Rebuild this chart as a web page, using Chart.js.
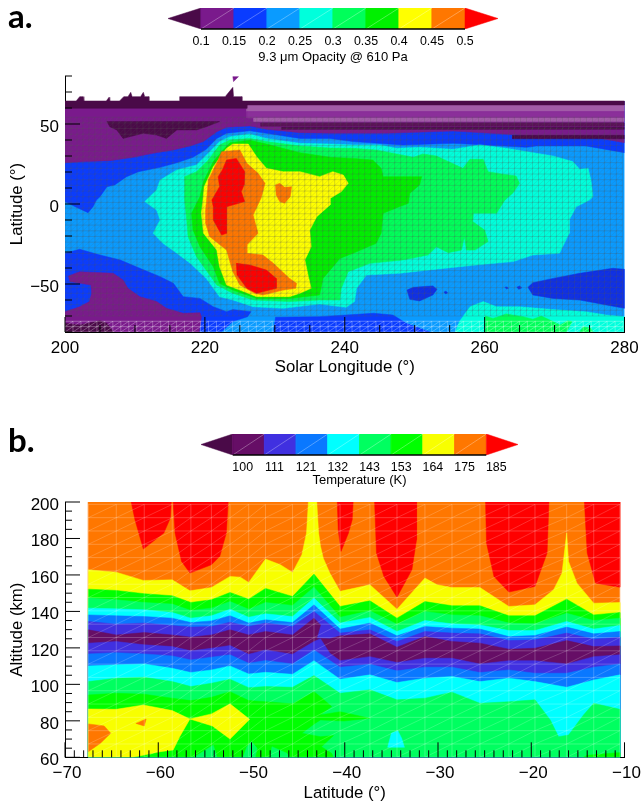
<!DOCTYPE html>
<html>
<head>
<meta charset="utf-8">
<title>Opacity and temperature</title>
<script src="https://cdn.jsdelivr.net/npm/chart.js@4"></script>
<style>
    html, body { margin: 0; padding: 0; background: #fff; }
    #page { position: relative; width: 641px; height: 803px; overflow: hidden; }
    canvas { position: absolute; left: 0; }
    .tag { position: absolute; left: 8px; font: 700 33px Lato, sans-serif; color: #000; line-height: 40px; }
</style>
</head>
<body>
<div id="page">
    <canvas id="barA" width="641" height="72" style="top:0"></canvas>
    <canvas id="plotA" width="680" height="324" style="top:56px"></canvas>
    <canvas id="barB" width="641" height="70" style="top:425px"></canvas>
    <canvas id="plotB" width="680" height="321" style="top:482px"></canvas>
    <div class="tag" style="top:-5px">a.</div>
    <div class="tag" style="top:419px">b.</div>
</div>
<script>
/* =========================================================
   COLOURS AND LEVELS
========================================================= */
const opacityLevels = ["0.1", "0.15", "0.2", "0.25", "0.3", "0.35", "0.4", "0.45", "0.5"];
const opacityColors = ["#4a0a48", "#7a1a8c", "#0a3cff", "#0a9bff", "#00ffdc", "#00ff5a", "#00f000", "#ffff00", "#ff7700", "#ff0000"];
const tempLevels = ["100", "111", "121", "132", "143", "153", "164", "175", "185"];
const tempColors = ["#4a0a48", "#660e66", "#4030e0", "#0a78ff", "#00ffff", "#00ff60", "#00ff00", "#f8ff00", "#ff7700", "#ff0000"];

/* =========================================================
   PANEL A - contours as [solar longitude, latitude]
========================================================= */
const north020 = [[200,1.5],[201.6,-2],[203.3,-5.4],[204,-1.7],[204.5,2.5],[205,4.6],[206,10.8],[207.1,11.9],[208.8,17.1],[210.5,20.2],[213.6,22.9],[216,25.8],[218.3,29.2],[220.2,34.2],[221.7,41],[223.1,44.2],[226.4,45.8],[228.8,44.2],[233.6,41],[237.9,41],[241.2,39],[248.3,36.9],[255.5,37.9],[260.2,36.9],[266,35.4],[267.4,36.3],[274.5,36.3],[280,32.1],[280,64],[200,64]];
const north015 = [[200,25.8],[203.1,26.5],[206.4,27.1],[209.8,29.2],[212.6,31.7],[215.5,33.8],[217.9,36.3],[219.8,39],[221.7,45.2],[223.1,47.9],[226.4,48.8],[228.8,46.7],[233.6,44.6],[237.9,44.2],[246,44.2],[255.5,45.6],[265,43.1],[267.9,41],[274.5,42.7],[280,38.3],[280,64],[200,64]];
const north010 = [[206,51.5],[222.1,51.5],[220.2,48.3],[218.8,46.3],[216,46.3],[214.5,41],[213.1,43.1],[211.2,44.2],[208.3,41],[207.4,46.3],[206.4,48.3]];
const south020 = [[200,-30.8],[202.1,-28.3],[205,-31.9],[207.9,-35],[210.7,-40.2],[213.6,-45.4],[215.5,-49.6],[216.9,-57.9],[219.3,-59],[221.2,-64.2],[223.1,-67.3],[224,-66],[226.6,-67.3],[226.1,-70.4],[224,-73.5],[222.4,-79.8],[200,-80]];
const bottom020 = [[229.8,-80],[230.1,-70.8],[236.4,-70.4],[240.2,-69.4],[244.1,-68.3],[246.9,-69.4],[248.8,-74.6],[251.7,-79.2],[252.2,-80]];
const east020 = [[266.2,-52.1],[266.9,-49.2],[269.8,-46.5],[273.6,-43.3],[278.3,-40.2],[280,-40.8],[280,-65.2],[277.4,-63.1],[273.6,-60],[269.8,-59],[266.9,-56.9]];
const mid020 = [[248.9,-53.8],[249.8,-52.1],[252.6,-51.2],[253.2,-53.3],[252.6,-56.9],[250.7,-60.6],[249.3,-59.6]];
const spot020a = [[254.2,-55],[254.5,-54.6],[254.7,-55.6],[254.4,-56.2]];
const spot020b = [[262.9,-52],[263.2,-51.8],[263.4,-52.6],[263.1,-53]];
const spot020c = [[264.6,-52],[265,-51.2],[265.3,-52.4],[264.9,-53.3]];
const south015 = [[200.5,-45],[202.1,-42.3],[206.9,-43.3],[208.3,-47.5],[209,-52.7],[210.7,-57.9],[213.1,-61],[214.5,-65.2],[216.9,-68.3],[219.3,-67.9],[219.5,-70.4],[219.2,-80],[200,-80],[200,-67.3],[202.1,-64.2],[203.5,-61],[203.8,-55.8],[203.7,-50.6],[200.7,-48.5]];
const south010 = [[200,-74.6],[202.1,-75.6],[205,-72.9],[206,-74.6],[206.9,-80],[200,-80]];
const blob025 = [[211.4,1.5],[213.1,8.8],[213.6,15],[216,21.3],[218.8,24.4],[220.5,31.7],[222.1,39],[223.6,42.1],[226.4,43.8],[228.8,41],[233.6,37.9],[237.9,37.5],[241.2,36.9],[245,36.9],[247.4,34.8],[250.7,35.4],[255.5,34.2],[259.3,36.9],[263.1,34.8],[269.8,30],[272.6,26.5],[273.6,21.7],[274.8,22.3],[275.2,15],[275.5,4.6],[275,2.5],[273.1,-1.7],[272.1,-10],[272.1,-18.3],[270.7,-30.8],[266.9,-31.9],[264.1,-36],[258.8,-38.1],[252.1,-41.2],[247.9,-43.3],[243.1,-44.4],[241.7,-52.7],[241.4,-61],[240.2,-64.6],[236.4,-62.5],[231.2,-65.2],[226.9,-64.2],[224,-60],[222.1,-58],[220.2,-46.5],[217.9,-37],[215.7,-29.8],[214,-24.6],[212.6,-18.3],[213.6,-10],[213.1,-3.8]];
const bottom025 = [[255.8,-80],[256.4,-73.5],[257.9,-64.2],[259.8,-61],[261.7,-64.2],[265,-64.2],[269.8,-66],[274.5,-67.3],[277.4,-69.4],[280,-70.4],[280,-80]];
const blob030 = [[217.1,17.1],[218.8,20.2],[220.5,27.5],[222.1,36.9],[223.6,40],[226.4,41],[228.8,39],[233.6,36.3],[237.9,35],[241.2,34.8],[244.5,33.8],[249.8,29.2],[251.2,31.3],[253.1,30],[256.9,22.3],[257.9,27.9],[259.8,27.9],[260.5,20.2],[262.4,18.8],[264.5,17.5],[265,12.9],[264,6.7],[262.9,2.5],[261.7,-5.8],[258.4,-5.8],[258.3,-11],[260,-16.3],[260.5,-23.5],[258.6,-28.8],[257.4,-28.8],[257.1,-20.4],[256.7,-28.8],[254.8,-30.4],[253.1,-26.7],[251.9,-31.9],[248.3,-35],[243.6,-37.1],[240.5,-42.3],[239.5,-52.7],[239.3,-60],[236.4,-60],[232.1,-61],[226.9,-60],[224,-55.8],[221.7,-50.6],[220.5,-43.3],[218.8,-32.9],[217.6,-20.4],[217.4,-10],[217.1,2.5]];
const bottom030a = [[260.1,-70],[261.2,-71.5],[263.1,-68.7],[265.5,-70.4],[266.9,-72],[268.1,-70],[269.8,-73.5],[270.8,-75.6],[271.9,-72.9],[272.5,-73.5],[271.7,-80],[260.1,-80]];
const bottom030b = [[273.6,-80],[274.1,-76.7],[275.2,-77.7],[275.5,-80]];
const blob035 = [[219.3,4.6],[219.8,14],[221.2,26.5],[222.6,33.8],[223.6,38.3],[226.4,39.8],[228.8,37.5],[233.6,32.1],[237.9,29.2],[241.2,28.5],[244,27.5],[245.2,22.3],[245.5,17.1],[251,17.1],[250.7,11.9],[249.3,6.7],[249.1,0.4],[247.8,-1.7],[245.5,-5.8],[245.2,-18.3],[244.5,-24.6],[241.2,-30.8],[239.3,-34],[236.9,-46.5],[236.4,-56.9],[232.1,-59],[227.4,-59],[224,-53.8],[222.1,-49.6],[221.2,-39.2],[219.3,-26.7],[218.3,-16.3],[218.1,-5.8]];
const blob040 = [[219.7,1.5],[219.9,10.8],[221.2,23.3],[223.1,34.8],[224,37.5],[226.2,37.5],[227.4,29.6],[228.8,22.3],[231.2,20.2],[233.6,20.2],[236.4,17.1],[238.3,20.2],[239.8,18.1],[240.5,12.9],[239.5,7.7],[237.9,3.5],[237.9,-0.6],[236,-7.9],[235,-16.3],[235.2,-26.7],[234.3,-35],[234.8,-45.4],[235.2,-52.7],[233.6,-55.8],[232.1,-57.9],[227.4,-57.9],[225,-53.8],[223.1,-50.6],[222.1,-39.2],[221.7,-28.8],[219.8,-18.3],[219.5,-5.8]];
const blob045 = [[220.2,0.4],[220.5,15],[221.9,27.5],[222.4,32.7],[225,33.8],[226,25.4],[227.6,19.2],[228.6,12.9],[228.1,4.6],[227.9,2.5],[226.9,-6.9],[227.6,-18.3],[226,-25.6],[226,-30.8],[228.3,-31.9],[229.8,-37.1],[232.1,-46.5],[233.1,-49.6],[233,-52.7],[231.2,-53.8],[228.3,-56.9],[227.1,-55.8],[225,-50.6],[224,-42.3],[223.1,-28.8],[220.7,-20.4],[220.1,-12.1],[220.1,-3.8]];
const island045 = [[230.1,11.9],[230.7,12.9],[231.4,10.4],[232.4,10.8],[232.2,4.6],[231.4,0.4],[230.7,1.5],[230.2,5.6]];
const peak050n = [[222.5,21.3],[223.1,27.5],[224.5,28.5],[225.7,20.2],[225.6,11.9],[225.2,7.7],[225.7,1.5],[223.1,-1.7],[223.1,-18.3],[222.4,-19.4],[221.2,-10],[221.2,-1.7],[221,2.5],[222.1,10.8],[221.9,17.1]];
const peak050s = [[224.5,-37.1],[226.4,-38.1],[228.8,-41.3],[230.2,-46.5],[230.2,-52.7],[227.4,-55.8],[226,-52.7],[224.6,-44.4]];
const topEdge = [[200,64.4],[201.6,64.4],[202.1,67.1],[202.6,67.1],[202.7,64.4],[205.9,64.4],[206.3,66.7],[206.4,64.4],[207.8,64.4],[208.4,67.1],[209,67.1],[209.4,69.8],[209.6,67.1],[210.8,67.1],[211.2,69.8],[211.4,67.1],[212,67.1],[212,64.4],[216.4,64.4],[216.4,67.1],[222.9,67.1],[224,72.9],[224.1,67.1],[225.3,67.1],[225.3,64.4],[280,64.4],[280,61.9],[226,61.9],[226,59.8],[200,59.8]];
const topSpeck = [[224,79.6],[224.8,79.6],[224.1,76.5]];
// striped top rows east of 226: [west lon, south lat, north lat]
const stripeWest = [226, 226, 227, 228, 231, 264];
const stripeSouth = [57.8, 53.7, 51.6, 48.6, 46.7, 40.8];
const stripeNorth = [61.9, 57.8, 53.7, 50.6, 47.9, 42.9];
const stripeTone = ["#a25ba8", "#8b2f9a", "#a25ba8", "#5a1258", "#4a0a48", "#4a0a48"];

const lonTicks = [200, 220, 240, 260, 280];
const latTicksA = [-50, 0, 50];

/* =========================================================
   PANEL B - contour altitudes (km) on the latitude columns
========================================================= */
const tempLat = [-67.5,-64.5,-61.5,-58.5,-56.5,-54.3,-52.3,-50.3,-48.5,-45.6,-43.3,-40.5,-37.3,-34.4,-31.4,-28.5,-25.5,-22.4,-19.6,-16.2,-13.3,-10.5];
const upper164 = [152.2,151.5,149.7,148.6,144.9,146.4,150.4,146.7,152.6,148.2,160.5,142.7,145.8,136.3,145.4,143.1,143.1,137.6,137.6,146.7,138.1,139.4];
const upper153 = [147.3,146.4,144.9,144,140.5,141.8,145.4,141.2,144.9,143.3,153.3,136.8,140.3,133,140,138.1,137.6,133.6,133.2,139,135,136.3];
const upper143 = [141.8,141.4,140.9,139.4,136.3,137.6,141.2,136.8,138.7,137.2,147.3,133.6,136.7,129,135,133.2,132.6,129.5,129.5,134.5,130.3,132.3];
const upper132 = [138.1,137.6,137.2,136.3,133.9,134.8,137.6,133.6,135.4,133.9,143.6,130.3,133.6,126.6,131.7,130.8,130.3,126.2,126.8,131.4,127.7,129];
const upper121 = [134.5,133,133.6,132.3,131.4,131.7,134.1,131.7,133.6,131.7,140,128.1,129.9,123.5,129,128.1,127.7,124,124.4,128.1,124.8,125.9];
const lower121 = [116.7,117.4,116.7,115.6,113.4,114.9,116.2,111.6,113.1,111.2,118.9,109.4,111,107.4,109.4,109.4,106.5,107.9,106.1,106.1,109.4,111.2];
const lower132 = [110.1,110.7,111.2,108.8,106.5,107.9,110.1,105.7,106.6,105.5,113,102.8,105.2,101,103.4,104.3,101.5,103.4,101.5,98.4,102.4,105.2];

const upper175 = [[-67.5,162.8],[-64.5,161.5],[-61.6,157],[-58.5,157.3],[-56.6,151.3],[-54.3,153.1],[-52.3,159.2],[-51.2,158.8],[-50.3,155.9],[-48.5,168.7],[-46.9,165.6],[-45.6,161.4],[-44.6,171.1],[-44.1,183],[-43.9,200],[-43,200],[-42.8,183],[-42.6,175.7],[-42.3,169.2],[-41.6,161],[-40.5,151],[-37.3,154.6],[-34.4,141.2],[-31.4,158.3],[-30.1,154.6],[-28.5,153.1],[-25.5,153.1],[-22.4,142.7],[-19.6,143.6],[-17.6,151.9],[-16.7,161],[-16.2,183],[-16,167.4],[-15.1,155.5],[-13.3,144.5],[-10.5,144.9]];
const upper111 = [[-67.5,129.9],[-64.5,127.1],[-61.5,128.4],[-58.5,127.1],[-56.5,125.9],[-54.3,127.1],[-52.3,129.9],[-50.3,127.1],[-48.5,129],[-45.6,127.1],[-43.3,136.3],[-42.6,132.6],[-43,125.3],[-41.6,125],[-40.5,126.6],[-37.3,127.7],[-34.4,120.4],[-31.4,126.2],[-28.5,123.5],[-25.5,122.6],[-22.4,119.3],[-19.6,119.8],[-16.2,124],[-13.3,120.7],[-10.5,121.1]];
const lower111 = [[-67.5,122.6],[-64.5,123.5],[-61.5,121.7],[-58.5,120.7],[-56.5,118.4],[-54.3,119.8],[-52.3,121.3],[-50.3,116.5],[-48.5,118.9],[-45.6,116.5],[-43.3,123.5],[-42.6,125],[-41.6,117.1],[-40.5,113],[-37.3,115.2],[-34.4,112],[-31.4,114.3],[-28.5,114.3],[-25.5,111.2],[-22.4,113],[-19.6,113],[-16.2,111.2],[-13.3,115.2],[-10.5,116.2]];
const lower143 = [[-67.5,101.5],[-64.5,103.4],[-61.5,103.9],[-58.5,101.5],[-56.5,98.8],[-54.3,100.6],[-52.3,102.8],[-50.3,98.2],[-48.5,98.8],[-45.6,98.4],[-43.3,104.8],[-40.5,95.1],[-37.3,97],[-34.4,91.5],[-31.4,92.4],[-28.5,95.7],[-25.5,89.6],[-22.4,90.5],[-19.6,91.5],[-17.96,80.5],[-17.07,71.3],[-16,72.2],[-14.4,83.2],[-13.3,89.6],[-10.5,86.3]];
const lower153 = [[-67.5,94.2],[-64.5,95.1],[-61.5,94.6],[-58.5,92.4],[-56.5,91.1],[-54.3,92.9],[-52.3,96],[-50.3,91.1],[-48.5,90.5],[-45.6,89.3],[-43.3,96],[-42.64,93.3],[-41.4,87.8],[-42.64,83.2],[-40.5,85],[-37.3,81.4],[-40.1,79.9],[-42.6,80.5],[-43.2,78.6],[-44.6,73.2],[-42.6,71.3],[-41.2,71.9],[-42.5,65.8],[-41.4,62.2],[-41.2,60]];
const warm164 = [[-67.5,86.5],[-64.5,86.3],[-61.6,88.7],[-58.5,85.6],[-56.6,81],[-54.3,83.8],[-52.3,89.3],[-50.2,80.8],[-52.3,70],[-54.2,77.2],[-56.6,81],[-57.7,71.3],[-58.4,64],[-59.8,63.1],[-62.7,60],[-67.5,60]];
const warm175a = [[-67.5,78.3],[-65.8,77.2],[-65.1,73.2],[-66.2,67.7],[-67.5,63.1]];
const warm175b = [[-62.4,78.6],[-61.3,81],[-61.5,77.2]];
const hot185a = [[-62.9,200],[-58.6,200],[-58.7,191.2],[-59.4,183],[-61.6,174.2],[-62.5,190.3]];
const hot185b = [[-58.4,200],[-52.5,200],[-52.7,183],[-53.4,170.2],[-54.3,165.6],[-56.6,161],[-57.5,167.4],[-58.2,183]];
const hot185c = [[-40.8,200],[-39.1,200],[-39.2,190.3],[-39.6,183],[-40.4,172.9],[-40.7,184.8]];
const hot185d = [[-36.8,200],[-32.3,200],[-32.3,179.3],[-32.8,162.8],[-34.4,147.8],[-35.8,159.2],[-36.6,172]];
const hot185e = [[-24.9,200],[-18.1,200],[-18.3,172],[-19.6,153.7],[-22.4,150.6],[-24,159.2],[-24.8,177.5]];
const hot185f = [[-14.3,200],[-10.5,200],[-10.5,153.3],[-13.1,155.5],[-14,172]];
const patch153a = [[-56.2,60],[-55.2,63.1],[-54.1,66.7],[-53.7,60]];
const patch153b = [[-50.9,60],[-50.5,65.8],[-50,68.6],[-49.4,64.9],[-49.6,60]];
const patch153c = [[-48,60],[-47.8,65.8],[-46.2,62.2],[-45.9,60]];
const sliver164 = [[-14.4,60],[-14,61.1],[-10.8,62.5],[-10.5,62.5],[-10.5,60]];
const island132 = [[-35.4,65.5],[-35,73.2],[-34.3,74.6],[-33.9,70.4],[-33.6,65.5]];

const latTicksB = [-70, -60, -50, -40, -30, -20, -10];
const altTicks = [60, 80, 100, 120, 140, 160, 180, 200];
const altRowsKm = 7.3;

/* =========================================================
   HELPERS
========================================================= */
const FONT = "'Liberation Sans', Arial, sans-serif";
const minusText = v => String(v).replace("-", "\u2212");

// one filled contour; the first dataset listed gets painted first
function band(points, color) {
    return {
        type: "scatter",
        data: points.concat([points[0]]).map(p => ({ x: p[0], y: p[1] })),
        showLine: true,
        fill: "shape",
        backgroundColor: color,
        borderColor: color,
        borderWidth: 0.5,
        pointRadius: 0,
        tension: 0
    };
}

// area under a contour, down to the floor of the plot
function below(points, floor) {
    const last = points[points.length - 1];
    return points.concat([[last[0], floor], [points[0][0], floor]]);
}

const zipColumns = alts => tempLat.map((lat, i) => [lat, alts[i]]);

function painted(list) {
    return list.map((d, i) => Object.assign(d, { order: list.length - i }));
}

/* --- inward axis ticks, through the chart's own scales --- */
function inwardTicks(xMinor, xMajor, yMinor, yMajor) {
    return {
        id: "inwardTicks",
        afterDraw(chart) {
            const { ctx, chartArea: area, scales: { x, y } } = chart;
            ctx.save();
            ctx.strokeStyle = "#000";
            ctx.lineWidth = 1;
            ctx.beginPath();
            for (let v = x.min; v <= x.max + 1e-6; v += xMinor) {
                const long = Math.abs(Math.round((v - x.min) / xMajor) * xMajor + x.min - v) < 1e-6;
                const px = x.getPixelForValue(v);
                ctx.moveTo(px, area.bottom);
                ctx.lineTo(px, area.bottom - (long ? 15 : 7));
            }
            for (let v = y.min; v <= y.max + 1e-6; v += yMinor) {
                const long = yMajor.includes(Math.round(v));
                const py = y.getPixelForValue(v);
                ctx.moveTo(area.left, py);
                ctx.lineTo(area.left + (long ? 15 : 7), py);
            }
            ctx.stroke();
            ctx.restore();
        }
    };
}

/* --- triangulated data mesh over the contours --- */
function meshOverlay(id, grids) {
    return {
        id,
        afterDatasetsDraw(chart) {
            const { ctx, chartArea: area, scales: { x, y } } = chart;
            ctx.save();
            ctx.beginPath();
            ctx.rect(area.left, area.top, area.right - area.left, area.bottom - area.top);
            ctx.clip();
            ctx.lineWidth = 1;
            grids.forEach(g => {
                ctx.strokeStyle = g.line;
                ctx.beginPath();
                g.xs.forEach(v => {
                    ctx.moveTo(x.getPixelForValue(v), y.getPixelForValue(g.ys[0]));
                    ctx.lineTo(x.getPixelForValue(v), y.getPixelForValue(g.ys[g.ys.length - 1]));
                });
                g.ys.forEach(v => {
                    ctx.moveTo(x.getPixelForValue(g.xs[0]), y.getPixelForValue(v));
                    ctx.lineTo(x.getPixelForValue(g.xs[g.xs.length - 1]), y.getPixelForValue(v));
                });
                ctx.stroke();
                ctx.strokeStyle = g.diag;
                ctx.beginPath();
                for (let i = 0; i < g.xs.length - 1; i++) {
                    for (let j = 0; j < g.ys.length - 1; j++) {
                        ctx.moveTo(x.getPixelForValue(g.xs[i]), y.getPixelForValue(g.ys[j]));
                        ctx.lineTo(x.getPixelForValue(g.xs[i + 1]), y.getPixelForValue(g.ys[j + 1]));
                    }
                }
                ctx.stroke();
            });
            ctx.restore();
        }
    };
}

function steps(from, to, step) {
    const out = [];
    for (let v = from; v <= to + 1e-6; v += step) out.push(v);
    return out;
}

/* =========================================================
   COLOUR BARS
========================================================= */
function colorBar(canvasId, levels, colors, title, left, right, top, boxHeight, tickOffset, titlePad) {
    const sets = [];
    sets.push(band([[-1, 0.5], [0, 0], [0, 1]], colors[0]));
    for (let i = 0; i < 8; i++) {
        sets.push(band([[i, 0], [i + 1, 0], [i + 1, 1], [i, 1]], colors[i + 1]));
    }
    sets.push(band([[9, 0.5], [8, 0], [8, 1]], colors[9]));
    for (let i = 0; i < 8; i++) {
        sets.push({ type: "scatter", data: [{ x: i, y: 0 }, { x: i + 1, y: 1 }], showLine: true, borderColor: "rgba(255,255,255,0.3)", borderWidth: 1, pointRadius: 0 });
    }
    sets.push({ type: "scatter", data: [{ x: 0, y: 0 }, { x: 8, y: 0 }], showLine: true, borderColor: "#000", borderWidth: 1.5, pointRadius: 0, clip: false });

    new Chart(document.getElementById(canvasId), {
        data: { datasets: painted(sets) },
        options: {
            responsive: false,
            animation: false,
            layout: { padding: { left, right, top, bottom: 0 } },
            plugins: { legend: { display: false }, tooltip: { enabled: false } },
            scales: {
                x: {
                    type: "linear", min: -1, max: 9,
                    border: { display: false },
                    grid: { display: false, drawTicks: false },
                    afterBuildTicks: axis => { axis.ticks = levels.map((_, i) => ({ value: i })); },
                    afterFit: axis => { axis.height = boxHeight; },
                    ticks: {
                        autoSkip: false, maxRotation: 0, padding: 5, labelOffset: tickOffset,
                        color: "#000", font: { family: FONT, size: 12.4 },
                        callback: v => levels[v]
                    },
                    title: { display: true, text: title, color: "#000", font: { family: FONT, size: 13 }, padding: { top: 0, bottom: titlePad } }
                },
                y: { type: "linear", min: 0, max: 1, display: false }
            }
        }
    });
}

colorBar("barA", opacityLevels, opacityColors, "9.3 \u03bcm Opacity @ 610 Pa", 168, 143, 8, 43, 0, 7);
colorBar("barB", tempLevels, tempColors, "Temperature (K)", 201, 123, 9, 40, 10, 6.5);

/* =========================================================
   PLOT OPTIONS
========================================================= */
function plotOptions(xCfg, yCfg, top, right, boxHeight, xTitlePad) {
    return {
        responsive: false,
        animation: false,
        layout: { padding: { left: 0, right, top, bottom: 0 } },
        plugins: { legend: { display: false }, tooltip: { enabled: false } },
        scales: {
            x: {
                type: "linear", min: xCfg.min, max: xCfg.max,
                border: { display: true, color: "#000", width: 1 },
                grid: { drawOnChartArea: false, drawTicks: false },
                afterBuildTicks: axis => { axis.ticks = xCfg.ticks.map(value => ({ value })); },
                afterFit: axis => { axis.height = boxHeight; },
                ticks: {
                    autoSkip: false, maxRotation: 0, padding: 6, labelOffset: xCfg.labelOffset,
                    color: "#000", font: { family: FONT, size: 17 }, callback: minusText
                },
                title: { display: true, text: xCfg.title, color: "#000", font: { family: FONT, size: 16.8 }, padding: { top: 0, bottom: xTitlePad } }
            },
            y: {
                type: "linear", min: yCfg.min, max: yCfg.max,
                border: { display: true, color: "#000", width: 1 },
                grid: { drawOnChartArea: false, drawTicks: false },
                afterBuildTicks: axis => { axis.ticks = yCfg.ticks.map(value => ({ value })); },
                afterFit: axis => { axis.width = 65; },
                ticks: {
                    autoSkip: false, padding: 6, labelOffset: 3,
                    color: "#000", font: { family: FONT, size: 17 }, callback: minusText
                },
                title: { display: true, text: yCfg.title, color: "#000", font: { family: FONT, size: 16.8 }, padding: { top: yCfg.titleLeft, bottom: 0 } }
            }
        }
    };
}

/* =========================================================
   PANEL A
========================================================= */
const cA = opacityColors;
const layersA = [
    band([[200, -80], [280, -80], [280, 64], [200, 64]], cA[3]),
    band(north020, cA[2]),
    band(north015, cA[1]),
    band(south020, cA[2]),
    band(bottom020, cA[2]),
    band(east020, "#0f30e6"),
    band(mid020, "#0f30e6"),
    band(spot020a, "#0f30e6"),
    band(spot020b, "#0f30e6"),
    band(spot020c, "#0f30e6"),
    band(south015, cA[1]),
    band(south010, cA[0]),
    band(blob025, cA[4]),
    band(bottom025, cA[4]),
    band(bottom030a, cA[5]),
    band(bottom030b, cA[5]),
    band(blob030, cA[5]),
    band(blob035, cA[6]),
    band(blob040, cA[7]),
    band(blob045, cA[8]),
    band(island045, cA[8]),
    band(peak050n, cA[9]),
    band(peak050s, cA[9]),
    band(north010, cA[0])
];
stripeWest.forEach((w, i) => {
    layersA.push(band([[w, stripeSouth[i]], [280, stripeSouth[i]], [280, stripeNorth[i]], [w, stripeNorth[i]]], stripeTone[i]));
});
layersA.push(band(topEdge, cA[0]), band(topSpeck, cA[1]));

new Chart(document.getElementById("plotA"), {
    data: { datasets: painted(layersA) },
    options: plotOptions(
        { min: 200, max: 280, ticks: lonTicks, title: "Solar Longitude (\u00b0)", labelOffset: 0 },
        { min: -80, max: 80, ticks: latTicksA, title: "Latitude (\u00b0)", titleLeft: 7 },
        20, 55.5, 48, 3
    ),
    plugins: [
        meshOverlay("meshA", [
            { xs: steps(200, 280, 0.857), ys: steps(-70, 56, 3.55), line: "rgba(85,85,85,0.24)", diag: "rgba(100,100,100,0.14)" },
            { xs: steps(200, 280, 1.14), ys: steps(-80, -70, 3.35), line: "rgba(255,255,255,0.3)", diag: "rgba(255,255,255,0.3)" }
        ]),
        inwardTicks(5, 20, 10, latTicksA)
    ]
});

/* =========================================================
   PANEL B
========================================================= */
const cB = tempColors;
const layersB = [
    band([[-67.5, 60], [-10.5, 60], [-10.5, 200], [-67.5, 200]], cB[8]),
    band(hot185a, cB[9]),
    band(hot185b, cB[9]),
    band(hot185c, cB[9]),
    band(hot185d, cB[9]),
    band(hot185e, cB[9]),
    band(hot185f, cB[9]),
    band(below(upper175, 60), cB[7]),
    band(below(zipColumns(upper164), 60), cB[6]),
    band(below(zipColumns(upper153), 60), cB[5]),
    band(below(zipColumns(upper143), 60), cB[4]),
    band(below(zipColumns(upper132), 60), cB[3]),
    band(below(zipColumns(upper121), 60), cB[2]),
    band(below(upper111, 60), cB[1]),
    band(below(lower111, 60), cB[2]),
    band(below(zipColumns(lower121), 60), cB[3]),
    band(below(zipColumns(lower132), 60), cB[4]),
    band(below(lower143, 60), cB[5]),
    band(below(lower153, 60), cB[6]),
    band(patch153a, cB[5]),
    band(patch153b, cB[5]),
    band(patch153c, cB[5]),
    band(sliver164, cB[6]),
    band(island132, cB[4]),
    band(warm164, cB[7]),
    band(warm175a, cB[8]),
    band(warm175b, cB[8])
];

new Chart(document.getElementById("plotB"), {
    data: { datasets: painted(layersB) },
    options: plotOptions(
        { min: -70, max: -10, ticks: latTicksB, title: "Latitude (\u00b0)", labelOffset: 2 },
        { min: 60, max: 200, ticks: altTicks, title: "Altitude (km)", titleLeft: 7 },
        20, 55.5, 45.7, 0
    ),
    plugins: [
        meshOverlay("meshB", [
            { xs: tempLat, ys: steps(60, 200, altRowsKm), line: "rgba(255,255,255,0.22)", diag: "rgba(255,255,255,0.18)" }
        ]),
        inwardTicks(1, 10, 5, altTicks)
    ]
});
</script>
</body>
</html>
